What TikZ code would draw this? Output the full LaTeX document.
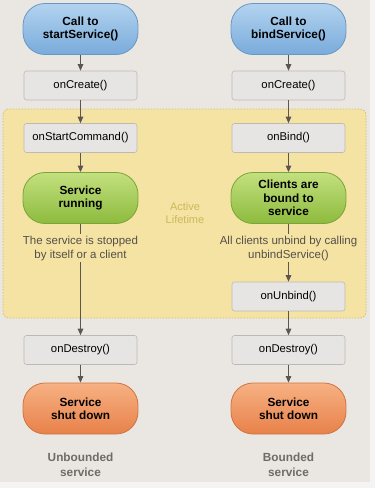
\documentclass[tikz,border=0pt]{standalone}
\usepackage{fontspec}
\setmainfont{Liberation Sans}
\usetikzlibrary{arrows.meta}
\definecolor{bgc}{HTML}{EAE7E2}
\definecolor{outer}{HTML}{F5F4F2}
\definecolor{yel}{HTML}{F4E3A2}
\definecolor{yelb}{HTML}{D6BE78}
\definecolor{boxf}{HTML}{E7E5E3}
\definecolor{boxb}{HTML}{BDBAB6}
\definecolor{ln}{HTML}{5C5650}
\definecolor{bluet}{HTML}{B3D3EF}
\definecolor{blueb}{HTML}{79ABDB}
\definecolor{bluel}{HTML}{6797C4}
\definecolor{grnt}{HTML}{C3E07E}
\definecolor{grnb}{HTML}{8DBB3E}
\definecolor{grnl}{HTML}{7CA43A}
\definecolor{orgt}{HTML}{F7B183}
\definecolor{orgb}{HTML}{E8814A}
\definecolor{orgl}{HTML}{D0743F}
\definecolor{txt}{HTML}{55504A}
\definecolor{act}{HTML}{CDB85A}
\definecolor{lab}{HTML}{6E6B68}
\tikzset{
  method/.style={draw=boxb, fill=boxf, rounded corners=2.5pt, minimum width=113pt, minimum height=29pt, font=\fontsize{11.3}{13}\selectfont, text=black, line width=0.6pt},
  pill/.style={rounded corners=22pt, minimum width=115pt, minimum height=51pt, font=\fontsize{11.8}{13.4}\selectfont\bfseries, align=center, line width=0.8pt, text=black},
  bluepill/.style={pill, draw=bluel, top color=bluet, bottom color=blueb},
  greenpill/.style={pill, draw=grnl, top color=grnt, bottom color=grnb},
  orangepill/.style={pill, draw=orgl, top color=orgt, bottom color=orgb},
  note/.style={font=\fontsize{11.5}{13.5}\selectfont, text=txt, align=center},
  conn/.style={draw=ln, line width=1pt, -{Triangle[width=5.5pt,length=6.5pt]}},
  plain/.style={draw=ln, line width=1pt},
  caption/.style={font=\fontsize{11.8}{15}\selectfont\bfseries, text=lab, align=center}
}
\begin{document}
\begin{tikzpicture}[x=1pt,y=-1pt]
\fill[outer] (0,0) rectangle (375,488);
\useasboundingbox (0,0) rectangle (375,488);
\fill[bgc] (0,0) rectangle (370,482);
\draw[yelb, fill=yel, dashed, dash pattern=on 1.5pt off 1.5pt, rounded corners=6pt, line width=0.7pt] (3,109) rectangle (366,318);

\node[text=act, font=\fontsize{11}{13}\selectfont, align=center] (active) at (185,213) {Active\\Lifetime};

% left column
\node[bluepill] (callstart) at (80.5,29) {Call to\\startService()};
\node[method] (createL) at (80.5,85.5) {onCreate()};
\node[method] (startcmd) at (80.5,138) {onStartCommand()};
\node[greenpill] (running) at (80.5,198) {Service\\running};
\node[note] (stopped) at (80.5,248.5) {The service is stopped\\by itself or a client};
\node[method] (destroyL) at (80.5,350) {onDestroy()};
\node[orangepill] (shutL) at (80.5,408.5) {Service\\shut down};
\node[caption] (unb) at (80.5,465) {Unbounded\\service};

% right column
\node[bluepill] (callbind) at (288.5,29) {Call to\\bindService()};
\node[method] (createR) at (288.5,85.5) {onCreate()};
\node[method] (bind) at (288.5,138) {onBind()};
\node[greenpill] (bound) at (288.5,198) {Clients are\\bound to\\service};
\node[note] (unbindtxt) at (288.5,248.5) {All clients unbind by calling\\unbindService()};
\node[method] (unbind) at (288.5,296.5) {onUnbind()};
\node[method] (destroyR) at (288.5,350) {onDestroy()};
\node[orangepill] (shutR) at (288.5,408.5) {Service\\shut down};
\node[caption] (bnd) at (288.5,465) {Bounded\\service};

% connectors left
\draw[conn] (callstart) -- (createL);
\draw[conn] (createL) -- (startcmd);
\draw[conn] (startcmd) -- (running);
\draw[plain] (running.south) -- ([yshift=-1pt]stopped.north);
\draw[conn] ([yshift=2pt]stopped.south) -- (destroyL);
\draw[conn] (destroyL) -- (shutL);

% connectors right
\draw[conn] (callbind) -- (createR);
\draw[conn] (createR) -- (bind);
\draw[conn] (bind) -- (bound);
\draw[plain] (bound.south) -- ([yshift=-1pt]unbindtxt.north);
\draw[conn] ([yshift=2pt]unbindtxt.south) -- (unbind);
\draw[conn] (unbind) -- (destroyR);
\draw[conn] (destroyR) -- (shutR);
\end{tikzpicture}
\end{document}
